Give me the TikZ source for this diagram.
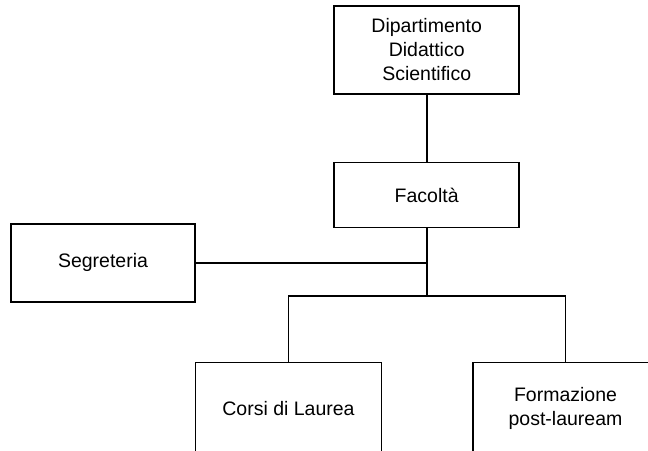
\documentclass[tikz,border=0pt]{standalone}
\usepackage{fontspec}
\setmainfont{Liberation Sans}
\begin{document}
\begin{tikzpicture}[x=1pt,y=-1pt,
  box/.style={draw, line width=1.8pt, rectangle, align=center, inner sep=0pt,
    font=\fontsize{19.5}{24}\selectfont},
  conn/.style={line width=1.8pt}]
\useasboundingbox (0,0) rectangle (648,450);
\clip (0,0) rectangle (648,450);
\node[box, minimum width=185pt, minimum height=88pt] (dip) at (426.7,49.7) {Dipartimento\\Didattico\\Scientifico};
\node[box, minimum width=185pt, minimum height=65pt] (fac) at (426.7,195) {Facoltà};
\node[box, minimum width=184pt, minimum height=78pt] (seg) at (103,262.8) {Segreteria};
\node[box, minimum width=186pt, minimum height=92pt] (cor) at (288.5,408.5) {Corsi di Laurea};
\node[box, minimum width=185pt, minimum height=92pt] (for) at (565.5,408.5) {Formazione\\post-lauream};
\coordinate (br) at (426.7,296);
\draw[conn] (dip.south) -- (fac.north);
\draw[conn] (fac.south) -- (br);
\draw[conn] (seg.east) -- (seg.east -| br);
\draw[conn] (cor.north) |- (br) -| (for.north);
\end{tikzpicture}
\end{document}
